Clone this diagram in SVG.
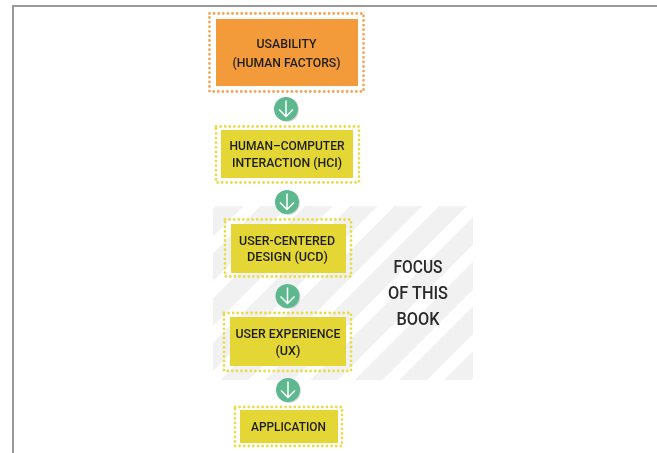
<svg xmlns="http://www.w3.org/2000/svg" width="657" height="453" viewBox="0 0 657 453">
<style>
text{font-family:"Roboto","Liberation Sans",sans-serif;font-weight:500;fill:#1f1f16;font-size:13px;text-anchor:middle}
.f{font-size:18px;fill:#2a2a2a}
.y{fill:#e3d636}.o{fill:#f39a3b}
.dy,.do{fill:none;stroke-width:2.800;stroke-dasharray:0 4.600;stroke-linecap:round}
.dy{stroke:#e8dd4a}.do{stroke:#f6a354}
.c{fill:#5db88f}.s{fill:#000;opacity:.15}
.a{fill:none;stroke:#fff;stroke-width:1.500}
</style>
<defs>
<pattern id="h" width="31.600" height="31.600" patternUnits="userSpaceOnUse" patternTransform="translate(473 208.500) rotate(45)"><rect width="31.600" height="31.600" fill="#fff"/><rect x="6" width="19.600" height="31.600" fill="#f1f1f1"/></pattern>
<filter id="soft" filterUnits="userSpaceOnUse" x="0" y="0" width="657" height="453"><feGaussianBlur stdDeviation="0.350"/></filter>
<g id="ar"><circle class="s" cx="1" cy="1" r="12"/><circle class="c" r="12"/><path class="a" d="M0-8.500V7M-7 .5L0 7.500L7 .5"/></g>
</defs>
<g filter="url(#soft)">
<path d="M13 453V6H657" fill="none" stroke="#999" stroke-width="2"/>
<rect id="focus" x="213" y="206" width="260" height="174" rx="3" fill="url(#h)"/>
<g id="connectors">
<use href="#ar" x="286" y="109"/><use href="#ar" x="287" y="202"/><use href="#ar" x="287.500" y="296"/><use href="#ar" x="288" y="390"/>
</g>
<g id="usability"><rect class="do" x="209.500" y="13.500" width="154" height="78"/><rect class="o" x="216" y="19" width="142" height="67"/><text x="286.500" y="47.500" textLength="60" lengthAdjust="spacingAndGlyphs">USABILITY</text><text x="286.500" y="67" textLength="108" lengthAdjust="spacingAndGlyphs">(HUMAN FACTORS)</text></g>
<g id="hci"><rect class="dy" x="216" y="126.500" width="143" height="56"/><rect class="y" x="221" y="130" width="132" height="48"/><text x="287" y="150" textLength="115" lengthAdjust="spacingAndGlyphs">HUMAN–COMPUTER</text><text x="287" y="166.500" textLength="110" lengthAdjust="spacingAndGlyphs">INTERACTION (HCI)</text></g>
<g id="ucd"><rect class="dy" x="225" y="219.500" width="126" height="57"/><rect class="y" x="231" y="224" width="115" height="49"/><text x="287" y="244.500" textLength="96" lengthAdjust="spacingAndGlyphs">USER-CENTERED</text><text x="287.500" y="261" textLength="81" lengthAdjust="spacingAndGlyphs">DESIGN (UCD)</text></g>
<g id="ux"><rect class="dy" x="224" y="313" width="127" height="58"/><rect class="y" x="230" y="317" width="116" height="49"/><text x="288" y="338" textLength="105" lengthAdjust="spacingAndGlyphs">USER EXPERIENCE</text><text x="288" y="355" textLength="25" lengthAdjust="spacingAndGlyphs">(UX)</text></g>
<g id="application"><rect class="dy" x="235" y="407" width="107" height="39"/><rect class="y" x="240" y="410" width="98" height="33"/><text x="288.500" y="431" textLength="75" lengthAdjust="spacingAndGlyphs">APPLICATION</text></g>
<g id="focus-label"><text class="f" x="418" y="272.500" textLength="49" lengthAdjust="spacingAndGlyphs">FOCUS</text><text class="f" x="418" y="299" textLength="60" lengthAdjust="spacingAndGlyphs">OF THIS</text><text class="f" x="418" y="325" textLength="43" lengthAdjust="spacingAndGlyphs">BOOK</text></g>
</g>
</svg>
